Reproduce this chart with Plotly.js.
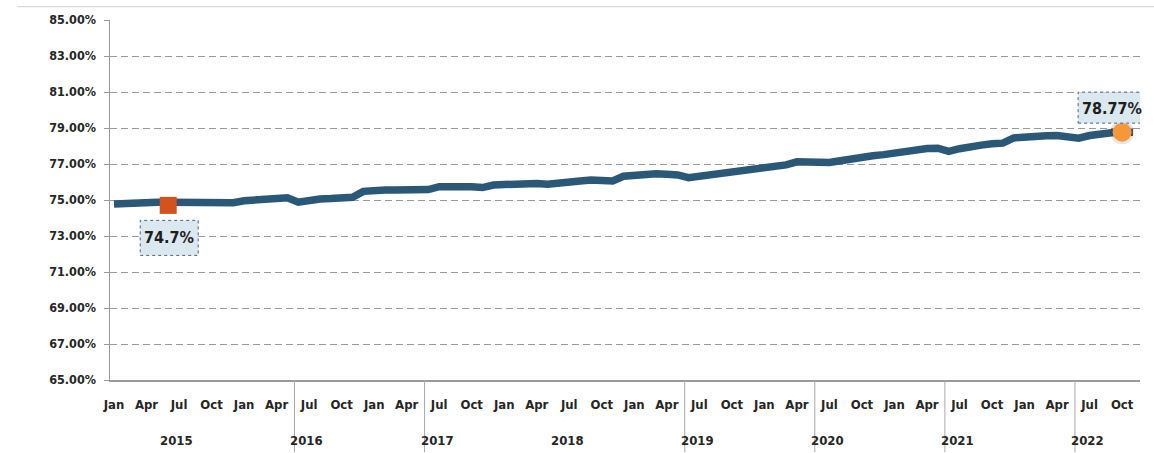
<!DOCTYPE html>
<html>
<head>
<meta charset="utf-8">
<script src="https://cdn.plot.ly/plotly-3.0.1.min.js"></script>
<style>
html,body{margin:0;padding:0;background:#fff;}
#chart{width:1154px;height:453px;}
</style>
</head>
<body>
<div id="chart"></div>
<script>
// Monthly series, Jan 2015 .. Nov 2022 (percent)
const startYear = 2015;
const values = [
  74.78, 74.82, 74.85, 74.86, 74.87, 74.87, 74.87, 74.88, 74.87, 74.84, 74.80, 74.85,
  74.96, 75.00, 75.03, 75.10, 75.12, 74.88, 75.02, 75.06, 75.08, 75.10, 75.15, 75.48,
  75.55, 75.56, 75.56, 75.55, 75.54, 75.58, 75.74, 75.76, 75.78, 75.74, 75.69, 75.83,
  75.86, 75.90, 75.93, 75.92, 75.87, 75.96, 76.02, 76.06, 76.11, 76.10, 76.06, 76.32,
  76.40, 76.44, 76.46, 76.43, 76.39, 76.24, 76.32, 76.40, 76.48, 76.55, 76.62, 76.68,
  76.74, 76.83, 76.95, 77.12, 77.10, 77.02, 77.08, 77.18, 77.30, 77.36, 77.46, 77.52,
  77.62, 77.70, 77.80, 77.86, 77.88, 77.70, 77.85, 77.98, 78.05, 78.12, 78.16, 78.45,
  78.52, 78.55, 78.57, 78.58, 78.55, 78.43, 78.58, 78.68, 78.74, 78.77, 78.77
];
const monthLabels = ['Jan', 'Apr', 'Jul', 'Oct'];
const yearLabels = ['2015', '2016', '2017', '2018', '2019', '2020', '2021', '2022'];
const separatorYears = ['2016', '2017', '2019', '2020', '2021', '2022'];
const startPoint = {month: 5, value: 74.7, label: '74.7%'};
const endPoint = {month: 93, value: 78.77, label: '78.77%'};

const xIdx = values.map((v, i) => i);
const tickvals = [], ticktext = [];
for (let i = 0; i < values.length; i += 3) {
  tickvals.push(i);
  ticktext.push(monthLabels[(i / 3) % 4]);
}

const FONT = '"DejaVu Sans Condensed", "Liberation Sans Narrow", "DejaVu Sans", sans-serif';
const TXT = '#262626';

const traces = [
  {
    x: xIdx, y: values, type: 'scatter', mode: 'lines',
    line: {color: '#2c5878', width: 7.5, shape: 'linear'},
    hoverinfo: 'skip'
  },
  {
    x: [startPoint.month], y: [startPoint.value], type: 'scatter', mode: 'markers',
    marker: {symbol: 'square', size: 17, color: '#d4521c'},
    hoverinfo: 'skip'
  },
  {
    x: [endPoint.month], y: [endPoint.value], type: 'scatter', mode: 'markers',
    marker: {symbol: 'circle', size: 24, color: 'rgba(0,0,0,0.10)'},
    hoverinfo: 'skip'
  },
  {
    x: [endPoint.month], y: [endPoint.value], type: 'scatter', mode: 'markers',
    marker: {symbol: 'circle', size: 19, color: '#f6983a'},
    hoverinfo: 'skip'
  }
];

const shapes = [
  // top chart border
  {type: 'line', xref: 'paper', yref: 'paper', x0: -0.09, x1: 1.02, y0: 1.037, y1: 1.037,
   line: {color: '#cfcfcf', width: 1}},
  // label boxes
  {type: 'rect', xref: 'x', yref: 'y', xsizemode: 'pixel', ysizemode: 'pixel',
   xanchor: startPoint.month, yanchor: startPoint.value,
   x0: -28, x1: 30, y0: -50, y1: -15,
   fillcolor: '#dce8f0', line: {color: '#4a6479', width: 1, dash: 'dot'}, layer: 'above'},
  {type: 'rect', xref: 'x', yref: 'y', xsizemode: 'pixel', ysizemode: 'pixel',
   xanchor: endPoint.month, yanchor: endPoint.value,
   x0: -44, x1: 25, y0: 9, y1: 40,
   fillcolor: '#dce8f0', line: {color: '#4a6479', width: 1, dash: 'dot'}, layer: 'above'}
];
separatorYears.forEach(y => {
  const m = (parseInt(y) - startYear) * 12 + 4.65;
  shapes.push({type: 'line', xref: 'x', yref: 'paper', x0: m, x1: m, y0: 0, y1: -0.2,
    line: {color: '#a8a8a8', width: 1}});
});

const annotations = [
  {x: startPoint.month, y: startPoint.value, xref: 'x', yref: 'y', text: startPoint.label,
   showarrow: false, xshift: 1, yshift: -32,
   font: {family: FONT, size: 16, color: '#1e1e1e', weight: 'bold'}},
  {x: endPoint.month, y: endPoint.value, xref: 'x', yref: 'y', text: endPoint.label,
   showarrow: false, xshift: -10, yshift: 24,
   font: {family: FONT, size: 16, color: '#1e1e1e', weight: 'bold'}}
];
yearLabels.forEach((y, k) => {
  annotations.push({
    x: k * 12 + 5.8, y: -0.167, xref: 'x', yref: 'paper', yanchor: 'middle', text: y,
    showarrow: false,
    font: {family: FONT, size: 13, color: TXT, weight: 'bold'}
  });
});

const layout = {
  width: 1154, height: 453,
  margin: {l: 110, r: 14, t: 20, b: 73},
  paper_bgcolor: '#ffffff', plot_bgcolor: '#ffffff',
  showlegend: false,
  font: {family: FONT, color: TXT},
  xaxis: {
    range: [-0.37, 94.65],
    tickvals: tickvals, ticktext: ticktext,
    showgrid: false, zeroline: false,
    showline: true, linecolor: '#9a9a9a', linewidth: 1.5,
    ticks: '', ticklabelstandoff: 12,
    tickfont: {family: FONT, size: 13, color: TXT, weight: 'bold'}
  },
  yaxis: {
    range: [65, 85], dtick: 2, tick0: 65,
    tickformat: '.2f', ticksuffix: '%',
    showgrid: true, gridcolor: '#9a9a9a', gridwidth: 1, griddash: '7px,4px',
    zeroline: false,
    showline: true, linecolor: '#9a9a9a', linewidth: 1.5,
    ticks: 'outside', ticklen: 5, tickcolor: '#9a9a9a',
    ticklabelstandoff: 5,
    tickfont: {family: FONT, size: 12.5, color: TXT, weight: 'bold'}
  },
  shapes: shapes,
  annotations: annotations
};

Plotly.newPlot('chart', traces, layout, {staticPlot: true, displayModeBar: false});
</script>
</body>
</html>
